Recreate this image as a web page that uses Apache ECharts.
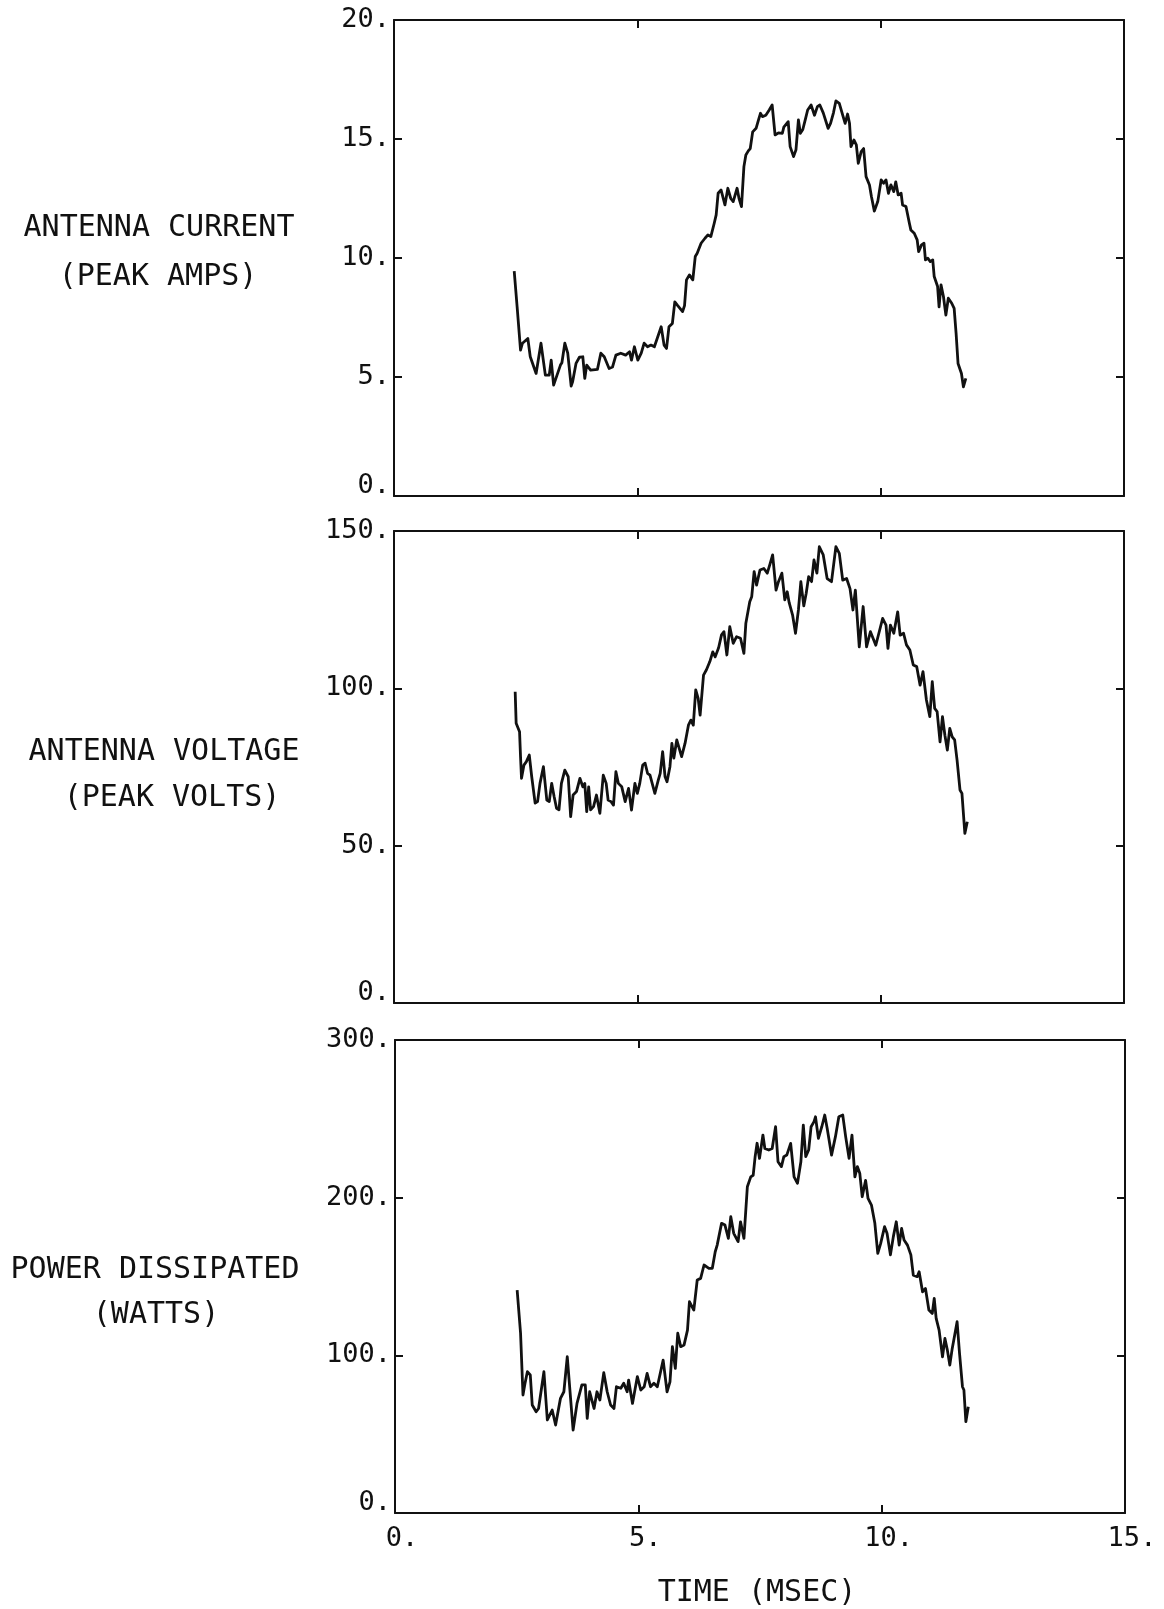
<!DOCTYPE html>
<html>
<head>
<meta charset="utf-8">
<script src="https://cdn.jsdelivr.net/npm/echarts@6/dist/echarts.min.js"></script>
<style>
  html, body { margin: 0; padding: 0; background: #ffffff; }
  #chart { width: 1164px; height: 1609px; }
</style>
</head>
<body>
<div id="chart"></div>
<script>
// Antenna current (peak amps) vs time (msec)
const currentTime = [2.47, 2.53, 2.60, 2.64, 2.75, 2.80, 2.83, 2.92, 3.02, 3.11, 3.19, 3.23, 3.28, 3.32, 3.42, 3.45, 3.51, 3.57, 3.64, 3.67, 3.74, 3.81, 3.88, 3.92, 3.96, 4.04, 4.18, 4.25, 4.32, 4.42, 4.49, 4.56, 4.66, 4.76, 4.84, 4.88, 4.94, 5.01, 5.08, 5.14, 5.21, 5.28, 5.35, 5.42, 5.49, 5.55, 5.60, 5.65, 5.72, 5.77, 5.83, 5.93, 5.97, 6.01, 6.07, 6.14, 6.19, 6.23, 6.31, 6.39, 6.45, 6.51, 6.58, 6.62, 6.66, 6.72, 6.80, 6.86, 6.92, 6.97, 7.05, 7.09, 7.14, 7.19, 7.23, 7.28, 7.32, 7.37, 7.44, 7.49, 7.53, 7.57, 7.64, 7.71, 7.77, 7.83, 7.90, 7.98, 8.01, 8.05, 8.10, 8.14, 8.21, 8.26, 8.31, 8.35, 8.40, 8.45, 8.50, 8.57, 8.64, 8.70, 8.75, 8.82, 8.92, 8.97, 9.03, 9.08, 9.15, 9.22, 9.27, 9.32, 9.36, 9.39, 9.45, 9.50, 9.54, 9.60, 9.65, 9.70, 9.77, 9.81, 9.87, 9.94, 10.01, 10.06, 10.11, 10.16, 10.21, 10.27, 10.31, 10.36, 10.42, 10.45, 10.52, 10.59, 10.62, 10.69, 10.75, 10.78, 10.84, 10.89, 10.92, 10.97, 11.02, 11.07, 11.10, 11.17, 11.20, 11.24, 11.29, 11.34, 11.39, 11.46, 11.51, 11.55, 11.59, 11.63, 11.66, 11.70, 11.75];
const currentAmps = [9.45, 7.95, 6.13, 6.42, 6.62, 5.85, 5.78, 5.15, 6.42, 5.08, 5.08, 5.71, 4.66, 4.71, 5.50, 5.60, 6.42, 6.00, 4.62, 4.80, 5.57, 5.83, 5.85, 4.94, 5.50, 5.29, 5.32, 6.00, 5.85, 5.36, 5.42, 5.92, 6.00, 5.92, 6.06, 5.71, 6.27, 5.71, 6.00, 6.42, 6.27, 6.34, 6.27, 6.69, 7.11, 6.34, 6.20, 7.11, 7.25, 8.16, 8.00, 7.75, 8.00, 9.08, 9.29, 9.08, 10.06, 10.20, 10.62, 10.83, 10.97, 10.90, 11.46, 11.81, 12.72, 12.86, 12.23, 12.93, 12.50, 12.37, 12.93, 12.50, 12.16, 13.84, 14.33, 14.50, 14.60, 15.30, 15.45, 15.80, 16.08, 15.94, 16.00, 16.22, 16.43, 15.17, 15.26, 15.24, 15.50, 15.45, 15.73, 14.68, 14.26, 14.55, 15.80, 15.24, 15.40, 15.80, 16.22, 16.43, 16.00, 16.36, 16.43, 16.10, 15.45, 15.66, 16.10, 16.60, 16.50, 16.00, 15.66, 16.05, 15.66, 14.68, 14.96, 14.75, 13.98, 14.47, 14.60, 13.42, 13.07, 12.58, 11.97, 12.37, 13.28, 13.14, 13.28, 12.72, 13.07, 12.79, 13.20, 12.65, 12.72, 12.23, 12.16, 11.46, 11.18, 11.04, 10.76, 10.27, 10.55, 10.62, 9.92, 9.99, 9.85, 9.92, 9.22, 8.80, 7.95, 8.87, 8.38, 7.60, 8.31, 8.10, 7.88, 6.83, 5.57, 5.50, 5.15, 4.59, 4.94];

// Antenna voltage (peak volts) vs time (msec)
const voltageTime = [2.49, 2.51, 2.58, 2.60, 2.62, 2.67, 2.72, 2.78, 2.83, 2.90, 2.95, 3.00, 3.07, 3.14, 3.19, 3.24, 3.29, 3.34, 3.39, 3.44, 3.51, 3.58, 3.63, 3.68, 3.75, 3.82, 3.88, 3.92, 3.96, 4.00, 4.04, 4.10, 4.16, 4.23, 4.30, 4.36, 4.40, 4.46, 4.51, 4.56, 4.61, 4.68, 4.75, 4.82, 4.88, 4.95, 5.00, 5.05, 5.11, 5.16, 5.21, 5.26, 5.36, 5.43, 5.47, 5.52, 5.57, 5.61, 5.67, 5.71, 5.75, 5.81, 5.91, 5.98, 6.05, 6.10, 6.15, 6.20, 6.25, 6.29, 6.36, 6.42, 6.49, 6.55, 6.60, 6.67, 6.73, 6.78, 6.84, 6.90, 6.97, 7.04, 7.12, 7.19, 7.23, 7.31, 7.35, 7.40, 7.45, 7.52, 7.60, 7.67, 7.73, 7.78, 7.85, 7.90, 7.97, 8.03, 8.08, 8.12, 8.19, 8.25, 8.31, 8.36, 8.42, 8.47, 8.52, 8.58, 8.63, 8.69, 8.74, 8.82, 8.90, 8.99, 9.08, 9.15, 9.22, 9.30, 9.37, 9.43, 9.48, 9.56, 9.64, 9.71, 9.79, 9.90, 10.04, 10.11, 10.15, 10.20, 10.27, 10.35, 10.40, 10.47, 10.53, 10.60, 10.67, 10.74, 10.81, 10.87, 10.94, 11.01, 11.06, 11.11, 11.16, 11.22, 11.27, 11.32, 11.37, 11.42, 11.47, 11.52, 11.57, 11.63, 11.67, 11.73, 11.78];
const voltageVolts = [98.9, 88.9, 86.2, 78.3, 71.4, 75.6, 76.7, 78.8, 71.9, 63.5, 64.0, 69.8, 75.1, 64.5, 64.0, 69.8, 65.6, 61.9, 61.4, 69.8, 74.0, 71.9, 59.2, 66.1, 67.2, 71.4, 68.7, 69.8, 60.8, 68.7, 61.4, 62.4, 66.1, 60.3, 72.4, 69.8, 64.5, 64.0, 62.9, 73.5, 69.8, 68.7, 64.0, 68.2, 61.3, 69.8, 66.6, 69.8, 75.6, 76.2, 73.0, 72.4, 66.6, 70.8, 73.0, 79.9, 71.9, 70.3, 75.1, 82.5, 77.8, 83.6, 78.3, 82.5, 88.3, 89.9, 88.3, 99.5, 96.8, 91.5, 104.2, 105.9, 108.5, 111.6, 110.0, 112.9, 117.0, 118.0, 110.6, 119.6, 114.3, 116.4, 115.9, 111.1, 120.7, 127.5, 129.1, 137.1, 132.8, 137.6, 138.1, 136.6, 139.7, 142.4, 131.2, 133.9, 136.6, 128.1, 130.7, 127.2, 123.3, 117.5, 124.9, 133.9, 126.2, 130.2, 135.5, 133.9, 140.8, 136.6, 145.0, 142.4, 134.9, 133.9, 145.0, 142.9, 134.4, 134.9, 131.7, 124.9, 131.2, 113.2, 126.0, 113.2, 118.0, 113.7, 122.2, 120.1, 112.7, 120.1, 117.5, 124.3, 116.9, 117.5, 113.8, 112.2, 107.4, 106.9, 101.0, 105.3, 96.3, 91.0, 102.1, 93.6, 92.6, 83.0, 91.0, 85.1, 80.4, 87.3, 84.6, 83.6, 77.2, 67.7, 66.6, 53.9, 57.6];

// Power dissipated (watts) vs time (msec)
const powerTime = [2.51, 2.58, 2.63, 2.67, 2.72, 2.78, 2.82, 2.90, 2.95, 3.06, 3.13, 3.23, 3.30, 3.40, 3.47, 3.54, 3.61, 3.66, 3.74, 3.84, 3.91, 3.95, 4.00, 4.09, 4.15, 4.21, 4.29, 4.36, 4.43, 4.50, 4.55, 4.64, 4.70, 4.77, 4.80, 4.88, 4.98, 5.05, 5.12, 5.18, 5.25, 5.32, 5.39, 5.51, 5.59, 5.65, 5.70, 5.76, 5.81, 5.87, 5.94, 6.01, 6.05, 6.14, 6.21, 6.28, 6.35, 6.38, 6.45, 6.52, 6.58, 6.62, 6.66, 6.71, 6.78, 6.85, 6.90, 6.96, 7.05, 7.10, 7.17, 7.24, 7.31, 7.36, 7.40, 7.44, 7.49, 7.56, 7.60, 7.68, 7.75, 7.82, 7.87, 7.94, 7.99, 8.05, 8.13, 8.20, 8.27, 8.34, 8.39, 8.44, 8.50, 8.55, 8.61, 8.64, 8.70, 8.77, 8.83, 8.88, 8.97, 9.05, 9.12, 9.20, 9.26, 9.33, 9.39, 9.45, 9.50, 9.55, 9.60, 9.67, 9.72, 9.79, 9.86, 9.92, 9.98, 10.06, 10.11, 10.18, 10.24, 10.30, 10.36, 10.41, 10.46, 10.53, 10.60, 10.65, 10.73, 10.77, 10.84, 10.90, 10.97, 11.04, 11.08, 11.12, 11.18, 11.25, 11.30, 11.35, 11.40, 11.45, 11.50, 11.55, 11.60, 11.66, 11.69, 11.73, 11.78];
const powerWatts = [141.4, 114.0, 74.8, 82.0, 89.6, 87.5, 68.5, 64.2, 66.3, 89.6, 59.0, 65.3, 55.8, 72.7, 76.9, 99.1, 71.7, 52.6, 69.5, 81.2, 81.2, 60.0, 76.9, 66.3, 76.9, 71.7, 89.0, 76.9, 68.5, 66.3, 80.1, 79.1, 82.3, 76.9, 84.3, 69.5, 86.5, 78.0, 80.1, 88.5, 80.1, 82.3, 80.1, 97.0, 76.9, 83.2, 105.5, 91.7, 114.0, 105.5, 106.6, 116.0, 134.0, 128.7, 147.8, 148.8, 157.3, 158.3, 155.2, 155.2, 165.7, 169.9, 168.8, 183.7, 182.6, 174.2, 187.9, 177.4, 172.1, 184.7, 174.2, 206.9, 213.2, 214.2, 226.0, 234.5, 224.9, 239.7, 231.2, 230.2, 231.2, 245.0, 222.8, 219.7, 226.0, 227.0, 234.4, 213.2, 209.1, 222.8, 246.0, 226.0, 230.2, 245.0, 248.2, 251.3, 237.6, 245.0, 252.4, 244.0, 227.0, 238.7, 251.3, 252.4, 238.7, 224.9, 239.7, 213.2, 219.7, 215.5, 200.6, 211.0, 199.5, 195.3, 183.7, 164.7, 171.0, 181.6, 177.4, 163.7, 175.3, 184.7, 169.9, 180.5, 173.1, 169.9, 163.7, 150.9, 149.9, 153.0, 140.3, 142.4, 128.7, 126.6, 136.1, 123.4, 116.0, 99.1, 110.7, 103.3, 93.8, 104.4, 112.8, 121.3, 101.2, 80.1, 78.0, 57.9, 67.4];

// Axis ranges and tick steps
const timeTicks = [0, 5, 10, 15];
const currentTicks = [0, 5, 10, 15, 20];
const voltageTicks = [0, 50, 100, 150];
const powerTicks = [0, 100, 200, 300];

// Left-hand captions for each panel
const panelCaptions = [
  ['ANTENNA CURRENT', '(PEAK AMPS)'],
  ['ANTENNA VOLTAGE', '(PEAK VOLTS)'],
  ['POWER DISSIPATED', '(WATTS)']
];
const timeCaption = 'TIME (MSEC)';

const INK = '#111111';
const FONT = '"DejaVu Sans Mono", "Liberation Mono", monospace';

const grids = [
  { left: 394, top: 20, width: 730, height: 476 },
  { left: 394, top: 531, width: 730, height: 472 },
  { left: 395, top: 1040, width: 730, height: 473 }
];

const frameLine = { show: true, onZero: false, lineStyle: { color: INK, width: 2 } };
const innerTick = { show: true, inside: true, length: 8, lineStyle: { color: INK, width: 2 } };

function step(ticks) { return ticks[1] - ticks[0]; }

const xAxes = [];
const yAxes = [];
const yTickSets = [currentTicks, voltageTicks, powerTicks];

grids.forEach(function (g, i) {
  const showTimeLabels = (i === grids.length - 1);
  xAxes.push({
    gridIndex: i, type: 'value', position: 'bottom',
    min: timeTicks[0], max: timeTicks[timeTicks.length - 1], interval: step(timeTicks),
    axisLine: frameLine, axisTick: innerTick, splitLine: { show: false },
    axisLabel: {
      show: showTimeLabels, margin: 12, color: INK,
      fontFamily: FONT, fontSize: 27,
      formatter: function (v) { return '{t|' + v + '.}'; },
      rich: { t: { fontFamily: FONT, fontSize: 27, color: INK, padding: [0, 0, 0, 14] } }
    }
  });
  xAxes.push({
    gridIndex: i, type: 'value', position: 'top',
    min: timeTicks[0], max: timeTicks[timeTicks.length - 1], interval: step(timeTicks),
    axisLine: frameLine, axisTick: innerTick, splitLine: { show: false },
    axisLabel: { show: false }
  });
  const yt = yTickSets[i];
  yAxes.push({
    gridIndex: i, type: 'value', position: 'left',
    min: yt[0], max: yt[yt.length - 1], interval: step(yt),
    axisLine: frameLine, axisTick: innerTick, splitLine: { show: false },
    axisLabel: {
      show: true, margin: 4, color: INK, fontFamily: FONT, fontSize: 27,
      formatter: function (v) { return v === 0 ? '{z|0.}' : '{n|' + v + '.}'; },
      rich: {
        n: { fontFamily: FONT, fontSize: 27, color: INK },
        z: { fontFamily: FONT, fontSize: 27, color: INK, padding: [0, 0, 20, 0] }
      }
    }
  });
  yAxes.push({
    gridIndex: i, type: 'value', position: 'right',
    min: yt[0], max: yt[yt.length - 1], interval: step(yt),
    axisLine: frameLine, axisTick: innerTick, splitLine: { show: false },
    axisLabel: { show: false }
  });
});

function pairs(xs, ys) { return xs.map(function (x, k) { return [x, ys[k]]; }); }

const traces = [
  pairs(currentTime, currentAmps),
  pairs(voltageTime, voltageVolts),
  pairs(powerTime, powerWatts)
];

const series = traces.map(function (data, i) {
  return {
    type: 'line', xAxisIndex: i * 2, yAxisIndex: i * 2,
    data: data, showSymbol: false, smooth: false,
    lineStyle: { color: INK, width: 2.8, join: 'round' },
    silent: true
  };
});

// Captions placed to the left of each panel
const captionCenters = [
  [[159, 228], [158, 277]],
  [[164, 752], [172, 798]],
  [[155, 1270], [156, 1315]]
];
const graphics = [];
panelCaptions.forEach(function (lines, i) {
  lines.forEach(function (txt, j) {
    const c = captionCenters[i][j];
    graphics.push({
      type: 'text', x: c[0], y: c[1], silent: true,
      style: { text: txt, fill: INK, font: '30px ' + FONT, textAlign: 'center', textVerticalAlign: 'middle' }
    });
  });
});
graphics.push({
  type: 'text', x: 757, y: 1593, silent: true,
  style: { text: timeCaption, fill: INK, font: '30px ' + FONT, textAlign: 'center', textVerticalAlign: 'middle' }
});

const chart = echarts.init(document.getElementById('chart'), null, { renderer: 'canvas' });
chart.setOption({
  animation: false,
  backgroundColor: '#ffffff',
  grid: grids.map(function (g) { return Object.assign({ containLabel: false }, g); }),
  xAxis: xAxes,
  yAxis: yAxes,
  series: series,
  graphic: graphics
});
</script>
</body>
</html>
